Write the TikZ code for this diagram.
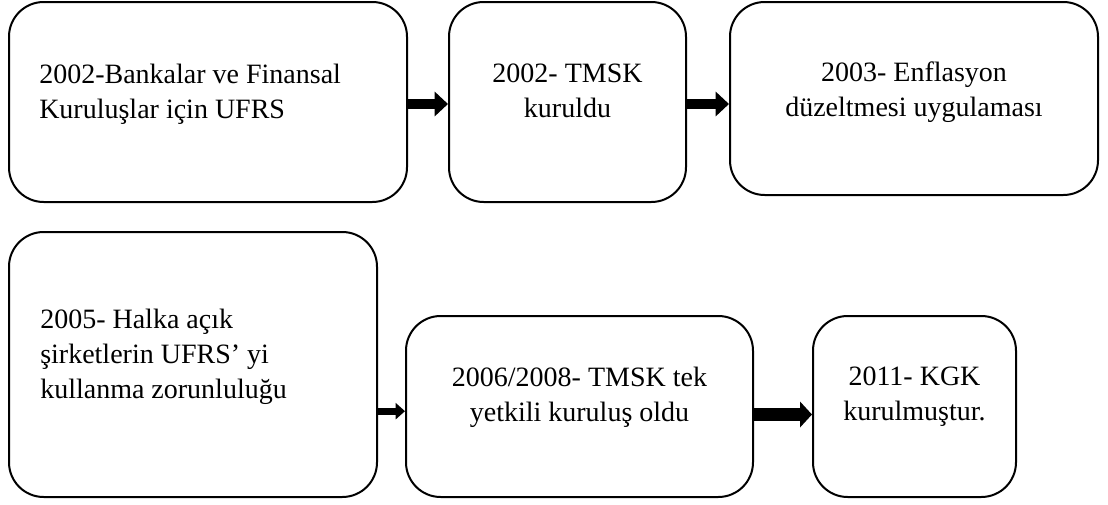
\documentclass[tikz,border=0pt]{standalone}
\usepackage{fontspec}
\setmainfont{Liberation Serif}
\usepackage{tikz}
\usetikzlibrary{positioning}
\usetikzlibrary{arrows.meta,calc}
\tikzset{fat edge/.style = {line width=8pt,-{Triangle[length=10pt,width=18pt]}},
         thin edge/.style = {line width=5pt,-{Triangle[length=7pt,width=12pt]}}}

\begin{document}
\begin{tikzpicture}[x=0.75pt,y=-0.75pt,box node/.style={draw,line width=1.5pt,rounded corners=26pt,inner sep=0pt},text node/.style={inner sep=0pt,font=\fontsize{21pt}{26.25pt}\selectfont}]
            \useasboundingbox (0,0) rectangle (1108,504);
            \node[box node,minimum width=298.5pt,minimum height=150pt] (a) at (208,102) {};
            \node[box node,minimum width=177.75pt,minimum height=150pt] (b) at (567.5,102) {};
            \node[box node,minimum width=276pt,minimum height=144.75pt] (c) at (914,98.5) {};
            \node[box node,minimum width=276pt,minimum height=198.75pt] (d) at (193,364.5) {};
            \node[box node,minimum width=260.25pt,minimum height=135.75pt] (e) at (579.5,406.5) {};
            \node[box node,minimum width=152.25pt,minimum height=135.75pt] (f) at (914.5,406.5) {};
            \node[text node,anchor=north west,align=left] (a text) at ($(a.north west)+(31,63)$) {2002-Bankalar ve Finansal\\Kuruluşlar için UFRS};
            \node[text node,anchor=north,align=center] (b text) at ($(b.north)+(0,63)$) {2002- TMSK\\kuruldu};
            \node[text node,anchor=north,align=center] (c text) at ($(c.north)+(0,61)$) {2003- Enflasyon\\düzeltmesi uygulaması};
            \node[text node,anchor=north west,align=left] (d text) at ($(d.north west)+(32,78)$) {2005- Halka açık\\şirketlerin UFRS’ yi\\kullanma zorunluluğu};
            \node[text node,anchor=north,align=center] (e text) at ($(e.north)+(0,52)$) {2006/2008- TMSK tek\\yetkili kuruluş oldu};
            \node[text node,anchor=north,align=center] (f text) at ($(f.north)+(0,52)$) {2011- KGK\\kurulmuştur.};
            \draw[fat edge] ([yshift=-1.5pt]a.east) -- ([yshift=-1.5pt]b.west);
            \draw[fat edge] ([yshift=-1.5pt]b.east) -- ([yshift=-1.5pt]b.east -| c.west);
            \draw[thin edge] ([yshift=-3.5pt]e.west -| d.east) -- ([yshift=-3.5pt]e.west);
            \draw[fat edge,line width=10pt,-{Triangle[length=9pt,width=19pt]}] ([yshift=-6pt]e.east) -- ([yshift=-6pt]f.west);
        \end{tikzpicture}
\end{document}
